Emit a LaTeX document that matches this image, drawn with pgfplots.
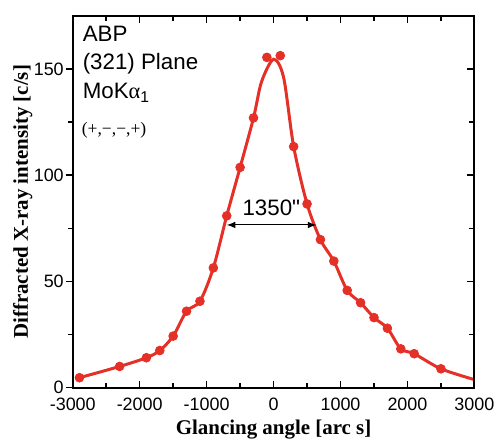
\documentclass[border=0pt]{standalone}
\usepackage{pgfplots}
\pgfplotsset{compat=1.18}
\usepackage{fontspec}
\setmainfont{Liberation Sans}
\newfontfamily\serif{Liberation Serif}
\definecolor{fitred}{RGB}{228,48,38}

% measured points
\pgfplotstableread{
x y
-2900 4.7
-2300 10.0
-1900 14.1
-1700 17.5
-1500 24.3
-1300 36.0
-1100 40.7
-900 56.4
-700 80.9
-500 103.7
-300 127.0
-100 155.5
100 156.3
300 113.5
500 86.5
700 69.7
900 59.6
1100 45.8
1300 40.0
1500 33.0
1700 28.0
1900 18.3
2100 16.0
2500 8.9
}\measured

% fitted curve
\pgfplotstableread{
x y
-2950 4.3
-2900 4.7
-2300 10.0
-1900 14.1
-1700 17.5
-1500 24.3
-1300 36.0
-1100 40.7
-900 56.4
-700 80.9
-500 103.7
-300 127.0
-180 144.0
0 154.6
150 146.0
300 113.5
500 86.5
700 69.7
900 59.6
1100 45.8
1300 40.0
1500 33.0
1700 28.0
1900 18.3
2100 16.0
2500 8.9
3000 3.8
}\fitted

\begin{document}
\begin{tikzpicture}
\begin{axis}[
    scale only axis,
    width=201.5pt, height=186.5pt,
    xmin=-3000, xmax=3000, ymin=0, ymax=175,
    xtick={-3000,-2000,...,3000},
    minor xtick={-2500,-1500,...,2500},
    ytick={0,50,100,150},
    minor ytick={25,75,125},
    xtick align=inside,
    ytick align=outside,
    ytick pos=left,
    major tick length=3.5pt, minor tick length=2.5pt,
    tick style={black, line width=0.8pt},
    axis line style={line width=1pt},
    /pgf/number format/assume math mode=true,
    /pgf/number format/1000 sep={},
    ticklabel style={font=\fontsize{9}{10}\selectfont},
    yticklabel style={xshift=2.5pt},
    xticklabel style={yshift=-1.5pt},
    xlabel={Glancing angle [arc s]},
    ylabel={Diffracted X-ray intensity [c/s]},
    label style={font=\serif\bfseries\fontsize{10.5}{12}\selectfont},
    xlabel style={at={(axis description cs:0.5,-0.126)}, anchor=base},
    ylabel style={at={(axis description cs:-0.112,0.5)}, anchor=base},
    clip=false,
]
\addplot[color=fitred, line width=1.5pt, smooth, tension=0.5] table {\fitted};
\addplot[only marks, mark=*, mark size=2.2pt, color=fitred] table {\measured};

\draw[-latex, black, line width=0.5pt] (axis cs:-50,76.6) -- (axis cs:-700,76.6);
\draw[-latex, black, line width=0.5pt] (axis cs:-50,76.6) -- (axis cs:640,76.6);
\node[anchor=base west, inner sep=0pt, font=\fontsize{11.2}{12}\selectfont]
    at (axis cs:-469,80.9) {1350\textquotedbl};

\node[anchor=base west, inner sep=0pt, font=\fontsize{11.2}{12}\selectfont]
    at (axis cs:-2856,163) {ABP};
\node[anchor=base west, inner sep=0pt, font=\fontsize{11.2}{12}\selectfont]
    at (axis cs:-2856,149.7) {(321) Plane};
\node[anchor=base west, inner sep=0pt, font=\fontsize{11.2}{12}\selectfont]
    at (axis cs:-2856,135.9) {MoK{\serif α}\textsubscript{1}};
\node[anchor=base west, inner sep=0pt, font=\serif\fontsize{8.8}{10}\selectfont]
    at (axis cs:-2870,119.4) {(+,−,−,+)};
\end{axis}
\begin{axis}[
    scale only axis,
    width=201.5pt, height=186.5pt,
    xmin=-3000, xmax=3000, ymin=0, ymax=175,
    xtick=\empty,
    ytick={0,50,100,150},
    minor ytick={25,75,125},
    yticklabels={},
    ytick pos=right,
    ytick align=inside,
    major tick length=3.5pt, minor tick length=2.5pt,
    tick style={black, line width=0.8pt},
    axis line style={line width=1pt},
]
\end{axis}
\path (current axis.south west) ++(-36.5pt,-25.5pt);
\path (current axis.north east) ++(12.5pt,8pt);
\end{tikzpicture}
\end{document}
